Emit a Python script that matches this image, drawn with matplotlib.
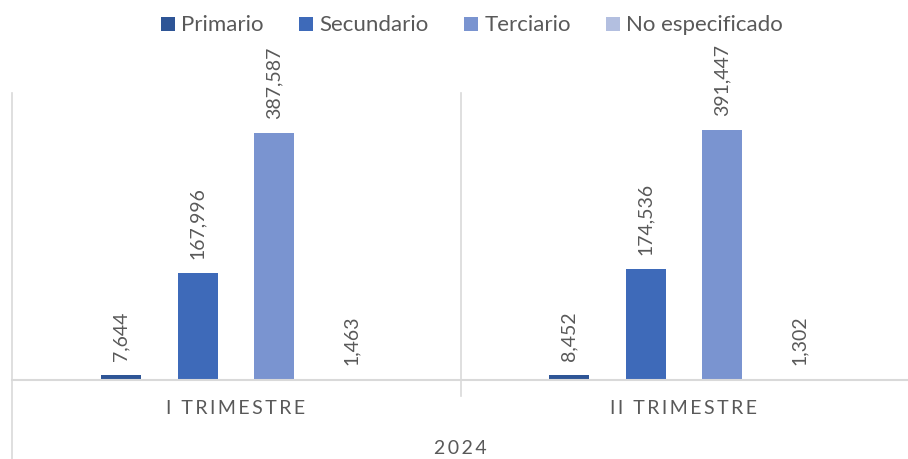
import matplotlib.pyplot as plt
import numpy as np
from matplotlib.lines import Line2D
from matplotlib.patches import Patch

plt.rcParams['font.family'] = ['Lato', 'DejaVu Sans']

categorias = ['I TRIMESTRE', 'II TRIMESTRE']
anio = '2024'
series = ['Primario', 'Secundario', 'Terciario', 'No especificado']
valores = {
    'Primario': [7644, 8452],
    'Secundario': [167996, 174536],
    'Terciario': [387587, 391447],
    'No especificado': [1463, 1302],
}
colores = ['#2E5596', '#3E6AB9', '#7A94D0', '#B3BFE0']

gris = '#595959'
linea = '#D9D9D9'

def espaciado(s):
    return '\u2009'.join(s)

fig = plt.figure(figsize=(9.08, 4.59), dpi=100)
ax = fig.add_axes([12 / 908, 79 / 459, 896 / 908, 287 / 459])

x = np.arange(len(categorias))
paso = 0.1715
ancho = 0.089
for i, (nombre, color) in enumerate(zip(series, colores)):
    pos = x + (i - 1.5) * paso
    barras = ax.bar(pos, valores[nombre], width=ancho, color=color, label=nombre)
    for b, v in zip(barras, valores[nombre]):
        ax.annotate(f'{v:,}', (b.get_x() + b.get_width() / 2, b.get_height()),
                    xytext=(0, 10), textcoords='offset points',
                    ha='center', va='bottom', rotation=90,
                    fontsize=14, color=gris)

ax.set_xlim(-0.5, 1.5)
ax.set_ylim(0, 450000)
ax.set_yticks([])
ax.set_xticks([])
for s in ['top', 'right', 'left']:
    ax.spines[s].set_visible(False)
ax.spines['bottom'].set_color(linea)
ax.spines['bottom'].set_linewidth(1.5)

# separadores del eje de categorías
fig.add_artist(Line2D([12 / 908, 12 / 908], [0, 366 / 459],
                      color=linea, lw=1.2, transform=fig.transFigure))
fig.add_artist(Line2D([461 / 908, 461 / 908], [63 / 459, 366 / 459],
                      color=linea, lw=1.2, transform=fig.transFigure))

for xi, cat in zip(x, categorias):
    ax.text(xi, -0.1, espaciado(cat), transform=ax.get_xaxis_transform(),
            ha='center', va='center', fontsize=14, color=gris)
ax.text(0.5, -0.24, espaciado(anio), transform=ax.transAxes,
        ha='center', va='center', fontsize=14, color=gris)

handles = [Patch(facecolor=c, label=n) for n, c in zip(series, colores)]
fig.legend(handles=handles, loc='upper center', bbox_to_anchor=(0.52, 1.01),
           ncol=4, frameon=False, fontsize=16, labelcolor=gris,
           handlelength=0.6, handleheight=0.6, handletextpad=0.3,
           columnspacing=1.6)

fig.savefig('out.png', dpi=100)
